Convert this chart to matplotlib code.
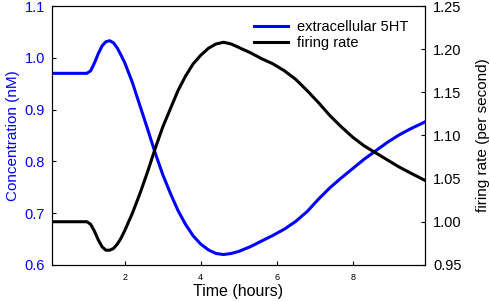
import matplotlib
matplotlib.use("Agg")
import matplotlib.pyplot as plt

plt.rcParams['font.family'] = ['Liberation Sans', 'DejaVu Sans']

# time (hours)
hours = [0.08, 0.5, 1.0, 1.1, 1.2, 1.3, 1.4, 1.5, 1.6, 1.7, 1.8, 1.9, 2.0,
         2.2, 2.4, 2.6, 2.8, 3.0, 3.2, 3.4, 3.6, 3.8, 4.0, 4.2, 4.4, 4.6,
         4.8, 5.0, 5.3, 5.6, 5.9, 6.2, 6.5, 6.8, 7.1, 7.4, 7.7, 8.0, 8.3,
         8.6, 8.9, 9.2, 9.5, 9.9]

# extracellular 5HT (nM), left axis
serotonin = [0.970, 0.970, 0.970, 0.975, 0.990, 1.008, 1.023, 1.031, 1.033,
             1.029, 1.019, 1.005, 0.990, 0.952, 0.907, 0.862, 0.816, 0.774,
             0.738, 0.705, 0.678, 0.656, 0.640, 0.629, 0.622, 0.620, 0.622,
             0.626, 0.635, 0.646, 0.657, 0.669, 0.684, 0.703, 0.727, 0.749,
             0.768, 0.786, 0.804, 0.820, 0.836, 0.850, 0.862, 0.876]

# firing rate (per second), right axis
firing = [1.000, 1.000, 1.000, 0.997, 0.989, 0.979, 0.971, 0.967, 0.967,
          0.969, 0.974, 0.981, 0.990, 1.010, 1.033, 1.058, 1.085, 1.110,
          1.131, 1.152, 1.169, 1.183, 1.193, 1.201, 1.206, 1.208, 1.206,
          1.202, 1.196, 1.189, 1.183, 1.175, 1.165, 1.152, 1.138, 1.123,
          1.110, 1.098, 1.088, 1.080, 1.072, 1.064, 1.057, 1.048]

fig = plt.figure(figsize=(4.9, 3.01), dpi=100)
ax = fig.add_axes([0.106, 0.12, 0.761, 0.86])
ax2 = ax.twinx()

l1, = ax.plot(hours, serotonin, color='#0000ff', lw=2.2, label='extracellular 5HT')
l2, = ax2.plot(hours, firing, color='black', lw=2.2, label='firing rate')

ax.set_xlim(0.08, 9.9)
ax.set_ylim(0.6, 1.1)
ax2.set_ylim(0.95, 1.25)

ax.set_xticks([2, 4, 6, 8])
ax.set_yticks([0.6, 0.7, 0.8, 0.9, 1.0, 1.1])
ax2.set_yticks([0.95, 1.00, 1.05, 1.10, 1.15, 1.20, 1.25])
ax2.set_yticklabels(['0.95', '1.00', '1.05', '1.10', '1.15', '1.20', '1.25'])

ax.tick_params(axis='x', direction='in', length=3, labelsize=6.5, pad=6)
ax.tick_params(axis='y', direction='in', length=3, labelsize=10.5,
               labelcolor='#0000ff', pad=5)
ax2.tick_params(axis='y', direction='in', length=3, labelsize=10.5, pad=6)

ax.set_xlabel('Time (hours)', fontsize=11.5, labelpad=1)
ax.set_ylabel('Concentration (nM)', fontsize=11, color='#0000ff', labelpad=3)
ax2.set_ylabel('firing rate (per second)', fontsize=11, labelpad=10)

ax2.legend(handles=[l1, l2], loc='upper right', frameon=False, fontsize=10.5,
           handlelength=2.3, handletextpad=0.6, labelspacing=0.1,
           bbox_to_anchor=(0.99, 0.995))

fig.savefig('out.png', dpi=100)
